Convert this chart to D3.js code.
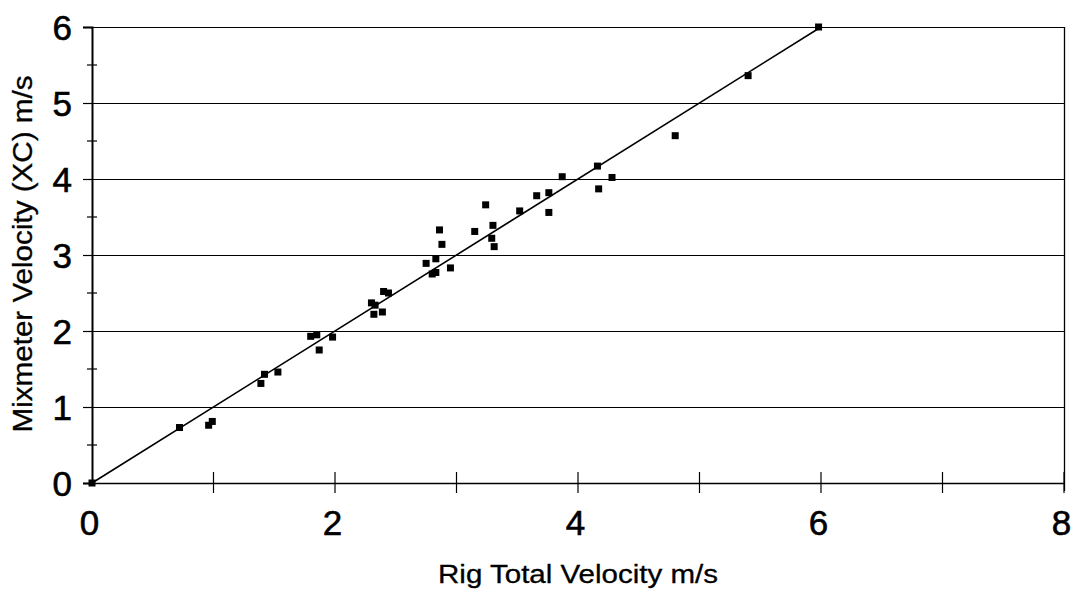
<!DOCTYPE html>
<html>
<head>
<meta charset="utf-8">
<script src="https://cdn.jsdelivr.net/npm/d3@7"></script>
<style>
  html, body { margin: 0; padding: 0; background: #fff; }
  svg { display: block; }
  text { font-family: "Liberation Sans", Arial, sans-serif; fill: #000; }
</style>
</head>
<body>
<svg id="chart" width="1074" height="595"></svg>
<script>
// Data
const rigVelocity = [0, 0.72, 0.96, 0.99, 1.39, 1.42, 1.53, 1.80, 1.85, 1.87, 1.98,
  2.30, 2.33, 2.32, 2.39, 2.40, 2.44, 2.75, 2.80, 2.83, 2.83, 2.95, 2.86, 2.88,
  3.15, 3.24, 3.30, 3.29, 3.31, 3.52, 3.66, 3.76, 3.76, 3.87, 4.16, 4.17, 4.28,
  4.80, 5.40, 5.98];
const mixVelocity = [0, 0.73, 0.76, 0.81, 1.31, 1.43, 1.46, 1.93, 1.95, 1.75, 1.92,
  2.37, 2.34, 2.22, 2.25, 2.52, 2.50, 2.89, 2.75, 2.77, 2.95, 2.83, 3.33, 3.14,
  3.31, 3.66, 3.39, 3.22, 3.11, 3.58, 3.78, 3.82, 3.56, 4.03, 4.17, 3.87, 4.02,
  4.57, 5.36, 6.00];
const lineX = [0, 6];
const lineY = [0, 6];
const xTickLabels = [0, 2, 4, 6, 8];
const yTickLabels = [0, 1, 2, 3, 4, 5, 6];
const xTitle = "Rig Total Velocity m/s";
const yTitle = "Mixmeter Velocity (XC) m/s";

const svg = d3.select("#chart");
const pLeft = 92, pRight = 1064, pTop = 27, pBottom = 483;
const x = d3.scaleLinear().domain([0, 8]).range([pLeft, pRight]);
const y = d3.scaleLinear().domain([0, 6]).range([pBottom, pTop]);

// horizontal gridlines
svg.append("g").selectAll("line").data(yTickLabels.filter(d => d > 0)).join("line")
  .attr("x1", pLeft).attr("x2", pRight)
  .attr("y1", d => y(d) + 0.5).attr("y2", d => y(d) + 0.5)
  .attr("stroke", "#000").attr("stroke-width", 1);

// right border
svg.append("line").attr("x1", pRight + 0.5).attr("x2", pRight + 0.5).attr("y1", pTop).attr("y2", pBottom + 8)
  .attr("stroke", "#000").attr("stroke-width", 1.3);

// y axis
const yAxis = d3.axisLeft(y).tickValues(yTickLabels).tickSize(9).tickFormat(d3.format("d"));
const gy = svg.append("g").attr("transform", `translate(${pLeft},0)`).call(yAxis);
gy.select(".domain").attr("stroke", "#000").attr("stroke-width", 2);
gy.selectAll(".tick line").attr("stroke", "#000").attr("x2", -9).attr("stroke-width", 1.2);
gy.selectAll(".tick text").attr("font-size", 35).attr("x", -20).attr("dy", "0.36em")
  .attr("stroke", "#000").attr("stroke-width", 0.6)
  .style("font-family", "'Liberation Sans', Arial, sans-serif");
// y minor ticks (crossing)
svg.append("g").selectAll("line").data(d3.range(0.5, 6, 1)).join("line")
  .attr("x1", pLeft - 5).attr("x2", pLeft + 5)
  .attr("y1", d => y(d)).attr("y2", d => y(d))
  .attr("stroke", "#000").attr("stroke-width", 1.2);

// x axis
const xAxis = d3.axisBottom(x).tickValues(xTickLabels).tickSize(0).tickFormat(d3.format("d"));
const gx = svg.append("g").attr("transform", `translate(0,${pBottom})`).call(xAxis);
gx.select(".domain").attr("stroke", "#000").attr("stroke-width", 1.6);
gx.selectAll(".tick text").attr("font-size", 35).attr("y", 39).attr("dy", "0.36em").attr("dx", -3)
  .attr("stroke", "#000").attr("stroke-width", 0.6)
  .style("font-family", "'Liberation Sans', Arial, sans-serif");
// x ticks crossing axis at each unit
svg.append("g").selectAll("line").data(d3.range(1, 9)).join("line")
  .attr("x1", d => x(d)).attr("x2", d => x(d))
  .attr("y1", pBottom - 11).attr("y2", pBottom + 10)
  .attr("stroke", "#000").attr("stroke-width", 1.2);

// reference line
const lineData = lineX.map((v, i) => [v, lineY[i]]);
svg.append("path").datum(lineData)
  .attr("d", d3.line().x(d => x(d[0])).y(d => y(d[1])))
  .attr("fill", "none").attr("stroke", "#000").attr("stroke-width", 1.6);

// points
const s = 7;
svg.append("g").selectAll("rect").data(rigVelocity.map((v, i) => [v, mixVelocity[i]])).join("rect")
  .attr("x", d => x(d[0]) - s / 2).attr("y", d => y(d[1]) - s / 2)
  .attr("width", s).attr("height", s).attr("fill", "#000");

// titles
svg.append("text").attr("x", 578).attr("y", 583).attr("text-anchor", "middle")
  .attr("font-size", 25).attr("textLength", 280).attr("lengthAdjust", "spacingAndGlyphs")
  .attr("stroke", "#000").attr("stroke-width", 0.3)
  .text(xTitle);
svg.append("text").attr("transform", "translate(32,254) rotate(-90)").attr("text-anchor", "middle")
  .attr("font-size", 27).attr("textLength", 357).attr("lengthAdjust", "spacingAndGlyphs")
  .attr("stroke", "#000").attr("stroke-width", 0.3)
  .text(yTitle);
</script>
</body>
</html>
